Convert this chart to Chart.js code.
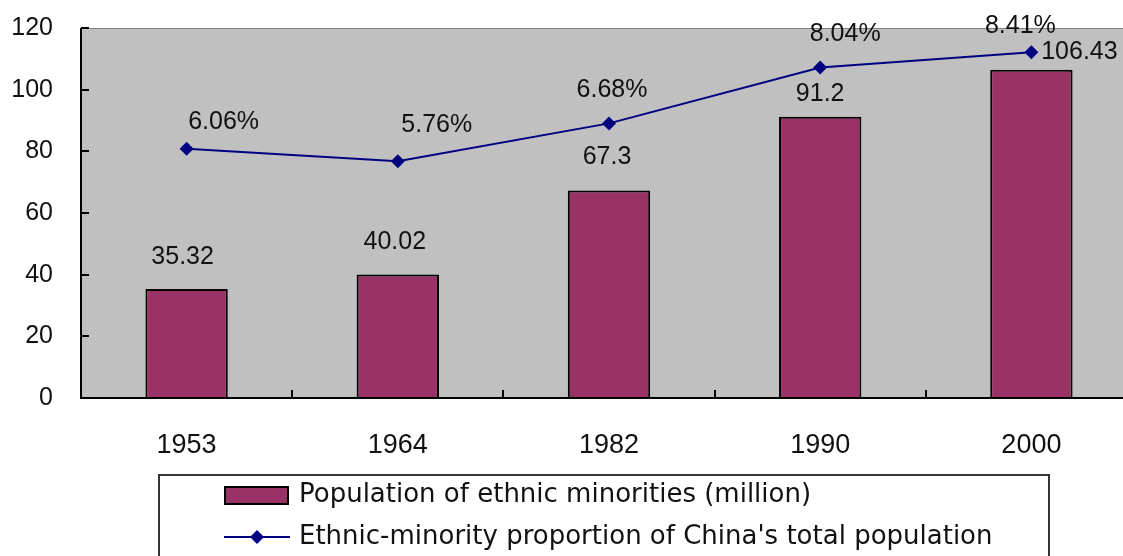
<!DOCTYPE html>
<html>
<head>
<meta charset="utf-8">
<script src="https://cdn.jsdelivr.net/npm/chart.js@4"></script>
<style>
html,body{margin:0;padding:0;background:#fff;overflow:hidden;}
#wrap{width:1123px;height:556px;overflow:hidden;position:relative;}
canvas{display:block;}
</style>
</head>
<body>
<div id="wrap"><canvas id="c" width="1137" height="556"></canvas></div>
<script>
// ---- data ----
const categories = ['1953', '1964', '1982', '1990', '2000'];
const population = [35.32, 40.02, 67.3, 91.2, 106.43];
const proportion = [6.06, 5.76, 6.68, 8.04, 8.41];
const populationLabels = ['35.32', '40.02', '67.3', '91.2', '106.43'];
const proportionLabels = ['6.06%', '5.76%', '6.68%', '8.04%', '8.41%'];
const seriesNames = ['Population of ethnic minorities (million)', "Ethnic-minority proportion of China's total population"];

// ---- label placement (style) ----
const barLabelOffsets = [[-4, -32], [-3, -32], [-2, -33], [0, -23], [48, -18]];
const lineLabelOffsets = [[37, -27], [39, -36], [3, -33], [25, -33], [-11, -26]];

const FONT = '"Liberation Sans", Arial, sans-serif';
const LEGEND_FONT = '"DejaVu Sans", Verdana, sans-serif';
const BAR_COLOR = '#993366';
const LINE_COLOR = '#000080';

const decor = {
  id: 'decor',
  beforeDraw(chart) {
    const {ctx, chartArea: a} = chart;
    ctx.save();
    ctx.fillStyle = '#c0c0c0';
    ctx.fillRect(a.left, a.top, a.right - a.left, a.bottom - a.top);
    ctx.strokeStyle = '#808080';
    ctx.lineWidth = 1;
    ctx.beginPath();
    ctx.moveTo(a.left, a.top + 0.5);
    ctx.lineTo(a.right, a.top + 0.5);
    ctx.stroke();
    ctx.restore();
  },
  afterDatasetsDraw(chart) {
    const {ctx, chartArea: a, scales} = chart;
    ctx.save();
    // axes
    ctx.strokeStyle = '#000';
    ctx.lineWidth = 2;
    ctx.beginPath();
    ctx.moveTo(a.left, a.top);
    ctx.lineTo(a.left, a.bottom);
    ctx.lineTo(a.right, a.bottom);
    ctx.stroke();
    // y ticks (inside)
    scales.y.ticks.forEach((t) => {
      const y = Math.round(scales.y.getPixelForValue(t.value));
      ctx.beginPath();
      ctx.moveTo(a.left, y);
      ctx.lineTo(a.left + 8, y);
      ctx.stroke();
    });
    // x ticks at category boundaries (inside)
    const n = categories.length;
    const w = (a.right - a.left) / n;
    for (let i = 1; i < n; i++) {
      const x = Math.round(a.left + w * i);
      ctx.beginPath();
      ctx.moveTo(x, a.bottom);
      ctx.lineTo(x, a.bottom - 8);
      ctx.stroke();
    }
    // data labels
    ctx.fillStyle = '#111';
    ctx.font = '25px ' + FONT;
    ctx.textAlign = 'center';
    ctx.textBaseline = 'middle';
    const barMeta = chart.getDatasetMeta(0);
    barMeta.data.forEach((el, i) => {
      const o = barLabelOffsets[i];
      ctx.fillText(populationLabels[i], el.x + o[0], el.y + o[1]);
    });
    const lineMeta = chart.getDatasetMeta(1);
    lineMeta.data.forEach((el, i) => {
      const o = lineLabelOffsets[i];
      ctx.fillText(proportionLabels[i], el.x + o[0], el.y + o[1]);
    });
    // legend box
    ctx.strokeStyle = '#333';
    ctx.lineWidth = 2;
    ctx.strokeRect(159, 475, 890, 120);
    ctx.textAlign = 'left';
    ctx.font = '26px ' + LEGEND_FONT;
    // bar swatch
    ctx.fillStyle = BAR_COLOR;
    ctx.fillRect(225, 487, 63, 17);
    ctx.strokeStyle = '#000';
    ctx.lineWidth = 2;
    ctx.strokeRect(225, 487, 63, 17);
    ctx.fillStyle = '#111';
    ctx.fillText(chart.data.datasets[0].label, 299, 495);
    // line swatch
    ctx.strokeStyle = LINE_COLOR;
    ctx.lineWidth = 2;
    ctx.beginPath();
    ctx.moveTo(224, 537);
    ctx.lineTo(290, 537);
    ctx.stroke();
    ctx.fillStyle = LINE_COLOR;
    ctx.beginPath();
    ctx.moveTo(257, 530);
    ctx.lineTo(264, 537);
    ctx.lineTo(257, 544);
    ctx.lineTo(250, 537);
    ctx.closePath();
    ctx.fill();
    ctx.fillStyle = '#111';
    ctx.fillText(chart.data.datasets[1].label, 299, 537);
    ctx.restore();
  }
};

new Chart(document.getElementById('c'), {
  type: 'bar',
  data: {
    labels: categories,
    datasets: [
      {
        type: 'bar',
        label: seriesNames[0],
        data: population,
        backgroundColor: BAR_COLOR,
        borderColor: '#000',
        borderWidth: 2,
        barPercentage: 0.39,
        categoryPercentage: 1.0,
        yAxisID: 'y',
        order: 2
      },
      {
        type: 'line',
        label: seriesNames[1],
        data: proportion,
        borderColor: LINE_COLOR,
        backgroundColor: LINE_COLOR,
        borderWidth: 2,
        tension: 0,
        pointStyle: 'rectRot',
        pointRadius: 7,
        pointHoverRadius: 7,
        pointBorderWidth: 0,
        yAxisID: 'y1',
        order: 1
      }
    ]
  },
  options: {
    responsive: false,
    animation: false,
    layout: {autoPadding: false, padding: {top: 28, right: 0, left: 0, bottom: 0}},
    plugins: {legend: {display: false}, tooltip: {enabled: false}},
    scales: {
      x: {
        offset: true,
        grid: {display: false, drawTicks: false},
        border: {display: false},
        ticks: {color: '#111', font: {family: FONT, size: 27}, padding: 31, maxRotation: 0},
        afterFit(s) { s.height = 158; s.paddingLeft = 0; s.paddingRight = 0; }
      },
      y: {
        min: 0, max: 120,
        ticks: {stepSize: 20, color: '#111', font: {family: FONT, size: 25}, padding: 28},
        grid: {display: false, drawTicks: false},
        border: {display: false},
        afterFit(s) { s.width = 81; s.paddingTop = 0; s.paddingBottom = 0; }
      },
      y1: {
        display: false,
        position: 'right',
        min: 0, max: 9
      }
    }
  },
  plugins: [decor]
});
</script>
</body>
</html>
